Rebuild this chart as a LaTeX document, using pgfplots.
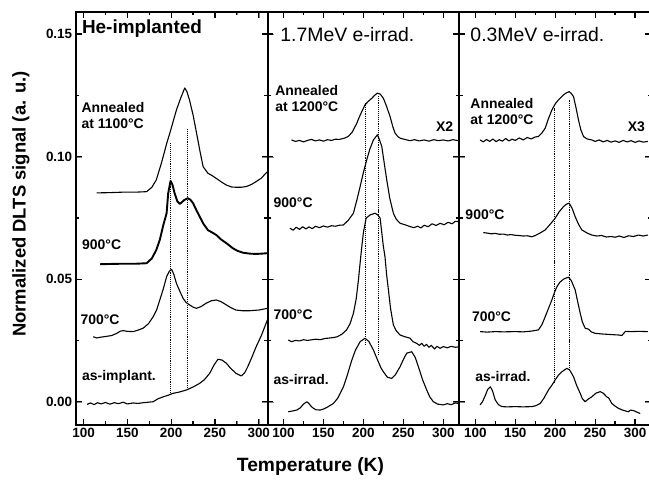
\documentclass[border=0pt]{standalone}
\usepackage{fontspec}
\setmainfont{Liberation Sans}
\usepackage{pgfplots}
\pgfplotsset{compat=1.18}

\pgfplotsset{
  dlts/.style={
    scale only axis, width=191.8bp, height=413bp,
    ymin=-0.0095, ymax=0.159,
    xtick={100,150,...,300}, minor x tick num=1,
    ytick={0,0.05,0.1,0.15}, minor y tick num=1,
    tick align=inside, major tick length=6bp, minor tick length=3.5bp,
    tick label style={font=\fontsize{13.5}{15}\selectfont\bfseries, /pgf/number format/assume math mode=true},
    y tick label style={/pgf/number format/.cd, fixed, fixed zerofill, precision=2, /tikz/.cd},
    cycle list={{black, no markers}},
    every axis plot/.append style={black, line width=1.1bp, line join=round},
    after end axis/.code={\draw[line width=2bp] (rel axis cs:0,0) rectangle (rel axis cs:1,1);},
  },
  tk/.style={forget plot, black, line width=1.3bp},
}
\tikzset{
  ann/.style={font=\fontsize{14}{16}\selectfont\bfseries, anchor=west, inner sep=0pt, align=left},
  ttl/.style={font=\fontsize{19.5}{21}\selectfont, anchor=west, inner sep=0pt},
  vline/.style={densely dotted, line width=1bp},
}

\begin{document}
\begin{tikzpicture}
\useasboundingbox (0,0) rectangle (649bp,480bp);

% ---- He-implanted
\begin{axis}[dlts, at={(75.7bp,55bp)}, anchor=south west, xmin=91, xmax=310]
\addplot coordinates {(115,0.0852) (130,0.0853) (145,0.0855) (160,0.0855) (172,0.0857) (178,0.0875) (183,0.0905) (189,0.0975) (195,0.1055) (198.5,0.1096) (202,0.1140) (206,0.1190) (211,0.1240) (215.5,0.1280) (218,0.1265) (221,0.1230) (225,0.1170) (229,0.1096) (233,0.1020) (236.5,0.0959) (242,0.0932) (247,0.0922) (252,0.0910) (258,0.0895) (263,0.0884) (269,0.0876) (274,0.0875) (280,0.0875) (286,0.0878) (292,0.0887) (297,0.0898) (303,0.0912) (308,0.0932) (310,0.0938)};
\addplot[line width=1.9bp] coordinates {(119,0.0561) (130,0.0562) (145,0.0563) (160,0.0563) (172,0.0565) (178,0.0585) (183,0.0619) (187,0.0660) (191,0.0720) (194.8,0.0769) (196.6,0.0850) (199.3,0.0901) (201.5,0.0885) (204,0.0850) (207,0.0818) (210,0.0807) (212.5,0.0815) (215,0.0823) (219,0.0830) (222,0.0824) (225,0.0810) (229,0.0780) (232.6,0.0755) (237,0.0725) (242,0.0700) (247,0.0690) (251.6,0.0680) (257,0.0662) (263,0.0647) (270.5,0.0626) (276,0.0615) (282,0.0608) (290,0.0604) (297,0.0603) (303,0.0604) (310,0.0606)};
\addplot coordinates {(111,0.0265) (115,0.0260) (119,0.0263) (125,0.0266) (132,0.0270) (138,0.0279) (142,0.0288) (145.5,0.0290) (150,0.0287) (156.8,0.0286) (162,0.0292) (168,0.0300) (174,0.0318) (179.5,0.0347) (183.5,0.0375) (187,0.0415) (191,0.0460) (194.8,0.0510) (198,0.0533) (200.5,0.0540) (203,0.0520) (206,0.0483) (210,0.0450) (213.6,0.0422) (217,0.0405) (221,0.0395) (225,0.0386) (228.8,0.0381) (234,0.0388) (240,0.0402) (246,0.0412) (251.6,0.0415) (257,0.0408) (263,0.0395) (268,0.0384) (274,0.0374) (282,0.0371) (289,0.0371) (300,0.0374) (310,0.0381)};
\addplot coordinates {(104,-0.0011) (108,-0.0005) (112,-0.0012) (116,-0.0004) (120,-0.0009) (125,-0.0003) (130,-0.0010) (135,-0.0004) (140,-0.0008) (145,-0.0002) (150,-0.0009) (156.8,-0.0005) (162,-0.0007) (168,-0.0004) (174,-0.0002) (179.5,0.0000) (185,0.0012) (191,0.0020) (197,0.0027) (202,0.0034) (210,0.0040) (217.5,0.0048) (225,0.0060) (232.6,0.0075) (238,0.0090) (244,0.0116) (249,0.0150) (253.4,0.0173) (258,0.0170) (263,0.0157) (268,0.0136) (274,0.0116) (280,0.0105) (284,0.0118) (287.5,0.0143) (292,0.0180) (297,0.0224) (303,0.0270) (308.4,0.0320) (310,0.0335)};
\addplot[vline] coordinates {(199,0.0027) (199,0.1056)};
\addplot[vline] coordinates {(219,0.0048) (219,0.1117)};
% inward ticks
\pgfplotsinvokeforeach{100,150,200,250,300}{
  \addplot[tk] coordinates {(#1,-0.0095) (#1,-0.00705)};
  \addplot[tk] coordinates {(#1,0.159) (#1,0.15655)};}
\pgfplotsinvokeforeach{125,175,225,275}{
  \addplot[tk] coordinates {(#1,-0.0095) (#1,-0.00807)};
  \addplot[tk] coordinates {(#1,0.159) (#1,0.15757)};}
\pgfplotsinvokeforeach{0,0.05,0.1,0.15}{
  \addplot[tk] coordinates {(91,#1) (97.85,#1)};
  \addplot[tk] coordinates {(310,#1) (303.15,#1)};}
\pgfplotsinvokeforeach{0.025,0.075,0.125}{
  \addplot[tk] coordinates {(91,#1) (95,#1)};
  \addplot[tk] coordinates {(310,#1) (306,#1)};}
\node[ttl, font=\fontsize{19}{21}\selectfont\bfseries] at (axis cs:98,0.1521) {He-implanted};
\node[ann] at (axis cs:97.4,0.1166) {Annealed\\at 1100°C};
\node[ann] at (axis cs:98.2,0.064) {900°C};
\node[ann] at (axis cs:96.3,0.0333) {700°C};
\node[ann] at (axis cs:98.2,0.0102) {as-implant.};
\end{axis}

% ---- 1.7 MeV
\begin{axis}[dlts, at={(267.5bp,55bp)}, anchor=south west, xmin=80, xmax=320, yticklabels={}]
\addplot coordinates {(110,0.1068) (115,0.1062) (120,0.1066) (125,0.1060) (130,0.1066) (135,0.1070) (140,0.1064) (145,0.1068) (150,0.1063) (155,0.1069) (160,0.1066) (165,0.1071) (170,0.1070) (176,0.1075) (181,0.1082) (186,0.1100) (191.7,0.1136) (196,0.1170) (202,0.1211) (206,0.1225) (210.5,0.1238) (214,0.1250) (217.5,0.1259) (221,0.1255) (225,0.1238) (229,0.1205) (233.4,0.1163) (237,0.1120) (239.6,0.1096) (243,0.1082) (246,0.1075) (252,0.1070) (258,0.1065) (264,0.1069) (270,0.1064) (276,0.1068) (282,0.1063) (288,0.1069) (294,0.1065) (300,0.1068) (306,0.1064) (312,0.1069) (319,0.1065)};
\addplot coordinates {(108,0.0708) (112,0.0700) (116,0.0712) (120,0.0703) (124,0.0714) (128,0.0705) (132,0.0713) (136,0.0706) (140,0.0716) (145,0.0710) (150,0.0717) (155,0.0712) (160,0.0718) (165,0.0716) (170,0.0720) (175,0.0721) (181,0.0740) (187.5,0.0769) (192,0.0825) (195.9,0.0878) (200,0.0935) (204.2,0.0987) (208,0.1030) (212.5,0.1068) (217.5,0.1089) (220,0.1070) (223,0.1041) (226,0.0975) (229.2,0.0905) (233,0.0830) (237.5,0.0769) (241,0.0745) (245.9,0.0728) (252,0.0722) (258,0.0715) (263,0.0710) (268,0.0716) (272,0.0709) (276,0.0720) (281,0.0714) (286,0.0726) (291,0.0719) (296,0.0728) (301,0.0722) (306,0.0732) (311,0.0726) (315,0.0736) (319,0.0735)};
\addplot coordinates {(106,0.0252) (110,0.0245) (115,0.0250) (120,0.0248) (125,0.0253) (130,0.0250) (134,0.0252) (140,0.0255) (146,0.0253) (152,0.0258) (158,0.0260) (163,0.0262) (167,0.0265) (173,0.0275) (179,0.0293) (183.5,0.0320) (187.5,0.0361) (191,0.0420) (193.8,0.0497) (196,0.0570) (198,0.0633) (200,0.0690) (203.4,0.0749) (208.4,0.0762) (214.6,0.0769) (218,0.0762) (220.9,0.0749) (223,0.0690) (225,0.0633) (227,0.0592) (229,0.0520) (231.3,0.0456) (234,0.0380) (237.5,0.0313) (241,0.0290) (245.9,0.0272) (252,0.0265) (258.4,0.0259) (262,0.0245) (266.7,0.0238) (270,0.0230) (273,0.0238) (276,0.0226) (279,0.0234) (282,0.0222) (285,0.0230) (289,0.0215) (292,0.0226) (296,0.0218) (300,0.0225) (305,0.0220) (310,0.0226) (315,0.0222) (319,0.0224)};
\addplot coordinates {(106,-0.0041) (111,-0.0038) (116.7,-0.0034) (121,-0.0025) (125,-0.0010) (129.3,0.0000) (132,-0.0008) (135,-0.0020) (137.5,-0.0027) (141,-0.0033) (145.9,-0.0034) (150,-0.0030) (155,-0.0022) (162.5,-0.0007) (168,0.0015) (175,0.0061) (180,0.0110) (185.5,0.0170) (190,0.0210) (195.9,0.0245) (202.1,0.0259) (207,0.0245) (212.5,0.0211) (218,0.0168) (222,0.0138) (225,0.0122) (230,0.0100) (235.5,0.0095) (240,0.0110) (245.9,0.0143) (250,0.0172) (254.2,0.0198) (260.5,0.0204) (265,0.0180) (268.8,0.0143) (274,0.0090) (279.2,0.0048) (283,0.0020) (287.5,0.0000) (293,-0.0010) (300,-0.0013) (305,-0.0008) (310,-0.0012) (315,-0.0005) (319,-0.0007)};
\addplot[vline] coordinates {(203,0.0231) (203,0.1220)};
\addplot[vline] coordinates {(219,0.0190) (219,0.1250)};
% inward ticks
\pgfplotsinvokeforeach{100,150,200,250,300}{
  \addplot[tk] coordinates {(#1,-0.0095) (#1,-0.00705)};
  \addplot[tk] coordinates {(#1,0.159) (#1,0.15655)};}
\pgfplotsinvokeforeach{125,175,225,275}{
  \addplot[tk] coordinates {(#1,-0.0095) (#1,-0.00807)};
  \addplot[tk] coordinates {(#1,0.159) (#1,0.15757)};}
\pgfplotsinvokeforeach{0,0.05,0.1,0.15}{
  \addplot[tk] coordinates {(80,#1) (87.5,#1)};
  \addplot[tk] coordinates {(320,#1) (312.5,#1)};}
\pgfplotsinvokeforeach{0.025,0.075,0.125}{
  \addplot[tk] coordinates {(80,#1) (84.4,#1)};
  \addplot[tk] coordinates {(320,#1) (315.6,#1)};}
\node[ttl] at (axis cs:95.9,0.1497) {1.7MeV e-irrad.};
\node[ann] at (axis cs:89.6,0.1236) {Annealed\\at 1200°C};
\node[ann, anchor=east] at (axis cs:312.5,0.1122) {X2};
\node[ann] at (axis cs:87.5,0.081) {900°C};
\node[ann] at (axis cs:87.5,0.0354) {700°C};
\node[ann] at (axis cs:87.5,0.0089) {as-irrad.};
\end{axis}

% ---- 0.3 MeV
\begin{axis}[dlts, at={(459.3bp,55bp)}, anchor=south west, xmin=80, xmax=320, yticklabels={}]
\addplot coordinates {(106,0.1068) (110,0.1060) (114,0.1070) (118,0.1062) (122,0.1072) (126,0.1061) (130,0.1069) (134,0.1063) (138,0.1074) (142,0.1064) (146,0.1071) (150,0.1066) (155,0.1076) (160,0.1068) (165,0.1078) (170,0.1072) (175,0.1080) (179,0.1082) (183,0.1095) (187.5,0.1116) (191,0.1150) (195.8,0.1190) (200,0.1215) (204,0.1231) (210.4,0.1252) (214,0.1260) (217.5,0.1265) (220,0.1258) (222.9,0.1245) (226,0.1200) (229.1,0.1150) (232,0.1110) (235.4,0.1082) (240,0.1072) (245.8,0.1068) (250,0.1062) (255,0.1068) (260,0.1060) (265,0.1066) (270,0.1059) (275,0.1064) (280,0.1058) (285,0.1066) (290,0.1060) (295,0.1065) (300,0.1058) (305,0.1064) (310,0.1059) (316,0.1062)};
\addplot coordinates {(110,0.0690) (115,0.0688) (120,0.0685) (125,0.0687) (130,0.0683) (135,0.0684) (140,0.0680) (145,0.0682) (150,0.0679) (155,0.0678) (160,0.0676) (165,0.0677) (170.8,0.0673) (175,0.0678) (181,0.0688) (187.5,0.0701) (194,0.0725) (200,0.0749) (205,0.0775) (210.4,0.0796) (214,0.0806) (217.5,0.0810) (221,0.0790) (225,0.0755) (229,0.0725) (233.3,0.0701) (240,0.0688) (245.8,0.0680) (252,0.0676) (258,0.0678) (264,0.0672) (270,0.0674) (275,0.0671) (280,0.0676) (286,0.0670) (292,0.0677) (298,0.0674) (304,0.0680) (310,0.0676) (316,0.0680)};
\addplot coordinates {(106,0.0286) (115,0.0284) (125,0.0286) (135,0.0285) (150,0.0286) (160,0.0285) (170,0.0288) (179,0.0293) (183.5,0.0315) (187.5,0.0347) (191.5,0.0380) (195.8,0.0415) (199,0.0445) (202.1,0.0469) (206,0.0488) (210.4,0.0500) (214,0.0505) (216.6,0.0508) (220,0.0495) (225,0.0456) (228,0.0410) (231.3,0.0361) (234,0.0325) (237.5,0.0300) (241.6,0.0296) (245,0.0285) (250,0.0279) (260,0.0276) (270,0.0274) (280,0.0272) (283.3,0.0270) (286,0.0280) (288,0.0287) (295,0.0286) (305,0.0287) (316,0.0286)};
\addplot coordinates {(106,-0.0013) (109,0.0000) (112.5,0.0025) (115.5,0.0050) (118.8,0.0061) (121.5,0.0045) (125,0.0007) (129,-0.0012) (133.3,-0.0020) (140,-0.0021) (150,-0.0020) (160,-0.0021) (170.8,-0.0020) (176,-0.0016) (181.3,-0.0007) (186,0.0015) (191.6,0.0048) (196,0.0068) (200,0.0089) (204,0.0108) (208.3,0.0122) (214.5,0.0136) (218,0.0130) (222.9,0.0102) (227,0.0065) (231.3,0.0034) (234,0.0012) (237.5,0.0000) (241,0.0010) (245.8,0.0020) (251,0.0035) (256.3,0.0041) (260,0.0035) (264.5,0.0020) (267,0.0015) (270.8,-0.0007) (275,-0.0018) (279.1,-0.0027) (285,-0.0035) (291.6,-0.0041) (294,-0.0034) (297.9,-0.0036) (302,-0.0042) (306.3,-0.0048)};
\addplot[vline] coordinates {(199,0.0076) (199,0.1200)};
\addplot[vline] coordinates {(218,0.0130) (218,0.1230)};
% inward ticks
\pgfplotsinvokeforeach{100,150,200,250,300}{
  \addplot[tk] coordinates {(#1,-0.0095) (#1,-0.00705)};
  \addplot[tk] coordinates {(#1,0.159) (#1,0.15655)};}
\pgfplotsinvokeforeach{125,175,225,275}{
  \addplot[tk] coordinates {(#1,-0.0095) (#1,-0.00807)};
  \addplot[tk] coordinates {(#1,0.159) (#1,0.15757)};}
\pgfplotsinvokeforeach{0,0.05,0.1,0.15}{
  \addplot[tk] coordinates {(80,#1) (87.5,#1)};
  \addplot[tk] coordinates {(320,#1) (312.5,#1)};}
\pgfplotsinvokeforeach{0.025,0.075,0.125}{
  \addplot[tk] coordinates {(80,#1) (84.4,#1)};
  \addplot[tk] coordinates {(320,#1) (315.6,#1)};}
\node[ttl] at (axis cs:93.75,0.1497) {0.3MeV e-irrad.};
\node[ann] at (axis cs:93.75,0.1184) {Annealed\\at 1200°C};
\node[ann, anchor=east] at (axis cs:312.5,0.1122) {X3};
\node[ann] at (axis cs:87.5,0.0762) {900°C};
\node[ann] at (axis cs:95.8,0.0347) {700°C};
\node[ann] at (axis cs:100,0.0102) {as-irrad.};
\end{axis}

\node[font=\fontsize{19.3}{21}\selectfont\bfseries] at (310.5bp,13bp) {Temperature (K)};
\node[font=\fontsize{18.5}{20}\selectfont\bfseries, rotate=90] at (21bp,276bp) {Normalized DLTS signal (a. u.)};
\end{tikzpicture}
\end{document}
